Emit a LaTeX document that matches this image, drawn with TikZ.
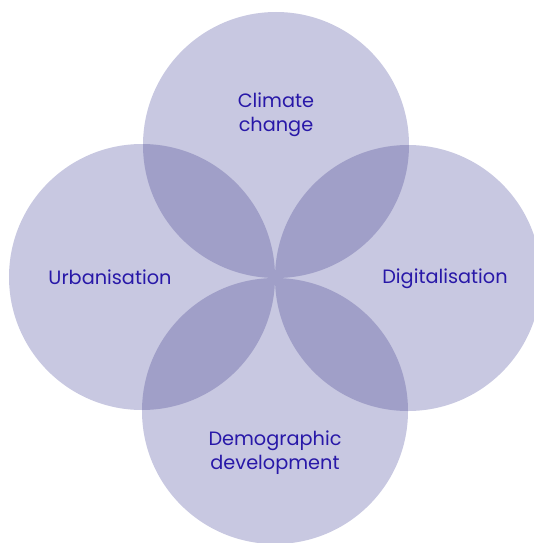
\documentclass[tikz,border=0pt]{standalone}
\usepackage{fontspec}
\setmainfont{Poppins}
\definecolor{single}{RGB}{200,200,225}
\definecolor{overlap}{RGB}{160,159,200}
\definecolor{txt}{RGB}{40,24,168}
\begin{document}
\begin{tikzpicture}[x=1pt,y=-1pt,
  lbl/.style={text=txt,font=\fontsize{19.3}{24}\selectfont,align=center,inner sep=0pt}]
\useasboundingbox (0,0) rectangle (534,543);
\clip (0,0) rectangle (534,543);
\def\R{133}
\coordinate (T) at (276,145);
\coordinate (L) at (142,277);
\coordinate (Rt) at (408,278);
\coordinate (B) at (275,411);
\foreach \c in {T,L,Rt,B} \fill[single] (\c) circle[radius=\R];
\foreach \a/\b in {T/L,T/Rt,B/L,B/Rt}{
  \begin{scope}
    \clip (\a) circle[radius=\R];
    \fill[overlap] (\b) circle[radius=\R];
  \end{scope}
}
\node[lbl] (tc) at (276,115) {Climate\\change};
\node[lbl] (lc) at (110,277) {Urbanisation};
\node[lbl] (rc) at (445,279) {Digitalisation};
\node[lbl] (bc) at (275,452.5) {Demographic\\development};
\end{tikzpicture}
\end{document}
